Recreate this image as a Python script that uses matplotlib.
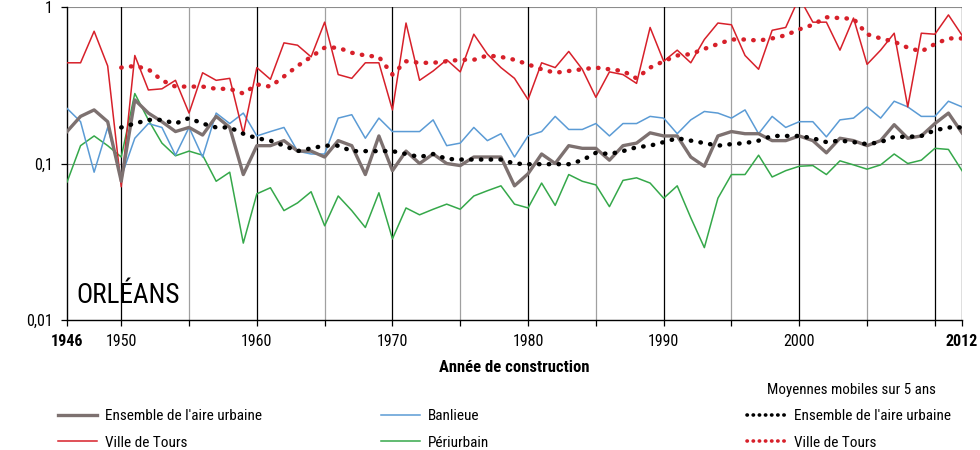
import numpy as np
import matplotlib
matplotlib.use("Agg")
import matplotlib.pyplot as plt
from matplotlib.ticker import FixedLocator, NullFormatter

plt.rcParams['font.family'] = ['Liberation Sans Narrow', 'Roboto Condensed',
                               'Liberation Sans', 'DejaVu Sans']

years = np.arange(1946, 2013)
years_ma = np.arange(1950, 2013)

# Ensemble de l'aire urbaine
ensemble = [
    0.16, 0.20, 0.22, 0.185, 0.077, 0.255, 0.21, 0.185, 0.16, 0.17,
    0.152, 0.20, 0.17, 0.085, 0.13, 0.13, 0.14, 0.12, 0.12, 0.11,
    0.14, 0.13, 0.085, 0.15, 0.09, 0.12, 0.10, 0.115, 0.10, 0.097,
    0.11, 0.11, 0.11, 0.072, 0.086, 0.115, 0.10, 0.13, 0.125, 0.125,
    0.105, 0.13, 0.135, 0.157, 0.15, 0.15, 0.11, 0.096, 0.15, 0.16,
    0.155, 0.155, 0.14, 0.14, 0.15, 0.14, 0.117, 0.145, 0.14, 0.13,
    0.14, 0.177, 0.145, 0.15, 0.18, 0.21, 0.157,
]

# Ville de Tours
tours = [
    0.44, 0.44, 0.70, 0.42, 0.071, 0.49, 0.295, 0.30, 0.34, 0.21,
    0.38, 0.34, 0.35, 0.155, 0.41, 0.345, 0.59, 0.57, 0.48, 0.80,
    0.37, 0.35, 0.44, 0.44, 0.22, 0.79, 0.34, 0.39, 0.46, 0.385,
    0.67, 0.50, 0.41, 0.35, 0.256, 0.44, 0.41, 0.52, 0.40, 0.265,
    0.385, 0.37, 0.325, 0.74, 0.45, 0.53, 0.44, 0.62, 0.79, 0.77,
    0.49, 0.40, 0.71, 0.74, 1.15, 0.80, 0.80, 0.53, 0.85, 0.43,
    0.53, 0.68, 0.23, 0.68, 0.67, 0.89, 0.66,
]

# Banlieue
banlieue = [
    0.225, 0.185, 0.088, 0.17, 0.082, 0.145, 0.18, 0.17, 0.113, 0.17,
    0.11, 0.21, 0.18, 0.21, 0.15, 0.16, 0.17, 0.12, 0.115, 0.115,
    0.195, 0.205, 0.145, 0.195, 0.16, 0.16, 0.16, 0.19, 0.13, 0.135,
    0.17, 0.14, 0.155, 0.11, 0.15, 0.16, 0.20, 0.165, 0.165, 0.18,
    0.15, 0.18, 0.18, 0.20, 0.195, 0.155, 0.19, 0.215, 0.21, 0.195,
    0.22, 0.155, 0.20, 0.17, 0.185, 0.185, 0.148, 0.19, 0.195, 0.23,
    0.195, 0.25, 0.23, 0.20, 0.20, 0.25, 0.23,
]

# Periurbain
periurbain = [
    0.076, 0.13, 0.15, 0.13, 0.11, 0.28, 0.19, 0.135, 0.112, 0.12,
    0.113, 0.077, 0.088, 0.031, 0.064, 0.070, 0.050, 0.056, 0.066, 0.040,
    0.062, 0.050, 0.039, 0.065, 0.033, 0.052, 0.047, 0.051, 0.055, 0.051,
    0.062, 0.067, 0.072, 0.055, 0.052, 0.075, 0.054, 0.085, 0.077, 0.073,
    0.053, 0.078, 0.081, 0.075, 0.060, 0.072, 0.045, 0.029, 0.060, 0.085,
    0.085, 0.113, 0.082, 0.090, 0.096, 0.097, 0.085, 0.104, 0.098, 0.092,
    0.098, 0.115, 0.100, 0.105, 0.125, 0.123, 0.090,
]

# moyennes mobiles sur 5 ans (1950-2012)
ma_ensemble = [
    0.17, 0.18, 0.19, 0.19, 0.18, 0.195, 0.18, 0.17, 0.17, 0.155,
    0.145, 0.14, 0.13, 0.12, 0.125, 0.13, 0.13, 0.12, 0.12, 0.12,
    0.12, 0.115, 0.11, 0.115, 0.107, 0.106, 0.106, 0.106, 0.106, 0.10,
    0.099, 0.099, 0.099, 0.099, 0.105, 0.117, 0.115, 0.12, 0.127, 0.13,
    0.137, 0.145, 0.14, 0.135, 0.13, 0.133, 0.135, 0.14, 0.15, 0.15,
    0.15, 0.145, 0.137, 0.14, 0.137, 0.133, 0.137, 0.148, 0.148, 0.15,
    0.163, 0.17, 0.17,
]

ma_tours = [
    0.41, 0.42, 0.40, 0.34, 0.31, 0.31, 0.31, 0.30, 0.30, 0.28,
    0.32, 0.31, 0.36, 0.42, 0.48, 0.55, 0.55, 0.51, 0.49, 0.48,
    0.37, 0.45, 0.44, 0.44, 0.45, 0.46, 0.46, 0.49, 0.48, 0.46,
    0.43, 0.40, 0.38, 0.39, 0.40, 0.41, 0.40, 0.39, 0.35, 0.41,
    0.45, 0.49, 0.50, 0.54, 0.58, 0.62, 0.62, 0.61, 0.63, 0.66,
    0.72, 0.77, 0.86, 0.85, 0.84, 0.67, 0.63, 0.60, 0.55, 0.52,
    0.58, 0.63, 0.63,
]

tick_years = [1946, 1950, 1960, 1970, 1980, 1990, 2000, 2012]
decades = [1950, 1960, 1970, 1980, 1990, 2000, 2010, 2012]
half_decades = [1955, 1965, 1975, 1985, 1995, 2005]

c_ens = '#7d7170'
c_tours = '#d7202a'
c_banl = '#5b9bd5'
c_peri = '#35a84a'

fig = plt.figure(figsize=(9.8, 4.5), dpi=100)
ax = fig.add_axes([67/980, 1 - 320/450, (962 - 67)/980, (320 - 7)/450])

ax.set_yscale('log')
ax.set_xlim(1946, 2012)
ax.set_ylim(0.01, 1)

# grid
for yv in [0.1, 1]:
    ax.axhline(yv, color='#8c8c8c', lw=0.8, zorder=1)
for xv in half_decades:
    ax.axvline(xv, color='#a0a0a0', lw=0.9, zorder=1)
for xv in decades:
    ax.axvline(xv, color='black', lw=0.9, zorder=1)

ax.plot(years, periurbain, color=c_peri, lw=1.1, zorder=3)
ax.plot(years, banlieue, color=c_banl, lw=1.1, zorder=3)
ax.plot(years, tours, color=c_tours, lw=1.1, zorder=3)
ax.plot(years, ensemble, color=c_ens, lw=2.4, zorder=4)
ax.plot(years_ma, ma_tours, color=c_tours, lw=3.2, ls=(0, (0.1, 2.1)),
        dash_capstyle='round', zorder=5)
ax.plot(years_ma, ma_ensemble, color='black', lw=3.2, ls=(0, (0.1, 2.1)),
        dash_capstyle='round', zorder=5)

for s in ['top', 'right']:
    ax.spines[s].set_visible(False)
ax.spines['left'].set_linewidth(1.0)
ax.spines['bottom'].set_linewidth(1.0)

ax.yaxis.set_major_locator(FixedLocator([0.01, 0.1, 1]))
ax.yaxis.set_minor_locator(FixedLocator([]))
ax.yaxis.set_minor_formatter(NullFormatter())
ax.set_yticklabels(['0,01', '0,1', '1'])

ax.xaxis.set_major_locator(FixedLocator(tick_years))
ax.xaxis.set_minor_locator(FixedLocator(half_decades + [2010]))
ax.set_xticklabels([str(y) for y in tick_years])
for lab in ax.get_xticklabels():
    if lab.get_text() in ('1946', '2012'):
        lab.set_fontweight('bold')
ax.tick_params(axis='both', which='both', direction='out', length=4,
               width=0.9, labelsize=11.5, pad=6)

ax.set_xlabel('Année de construction', fontsize=12, fontweight='bold',
              labelpad=8)

ax.text(0.010, 0.035, 'ORLÉANS', transform=ax.transAxes, fontsize=19.5,
        ha='left', va='bottom', zorder=6)

# legends
def make_legend(handles, labels, x_px, y_px):
    leg = fig.legend(handles, labels, loc='upper left',
                     bbox_to_anchor=(x_px/980, 1 - y_px/450),
                     frameon=False, fontsize=11, handlelength=2.55,
                     handletextpad=0.5, labelspacing=0.82,
                     borderpad=0, borderaxespad=0)
    return leg

h_ens = plt.Line2D([], [], color=c_ens, lw=2.4)
h_tours = plt.Line2D([], [], color=c_tours, lw=1.1)
h_banl = plt.Line2D([], [], color=c_banl, lw=1.1)
h_peri = plt.Line2D([], [], color=c_peri, lw=1.1)
h_ma_ens = plt.Line2D([], [], color='black', lw=2.6, ls=(0, (0.1, 1.6)),
                      dash_capstyle='round')
h_ma_tours = plt.Line2D([], [], color=c_tours, lw=2.6, ls=(0, (0.1, 1.6)),
                        dash_capstyle='round')

make_legend([h_ens, h_tours], ["Ensemble de l'aire urbaine", 'Ville de Tours'],
            58, 409)
make_legend([h_banl, h_peri], ['Banlieue', 'Périurbain'], 381, 409)
make_legend([h_ma_ens, h_ma_tours], ["Ensemble de l'aire urbaine", 'Ville de Tours'],
            747, 409)

fig.text(851/980, 1 - 390/450, 'Moyennes mobiles sur 5 ans', fontsize=10.8,
         ha='center', va='center')

fig.savefig('out.png', dpi=100)
